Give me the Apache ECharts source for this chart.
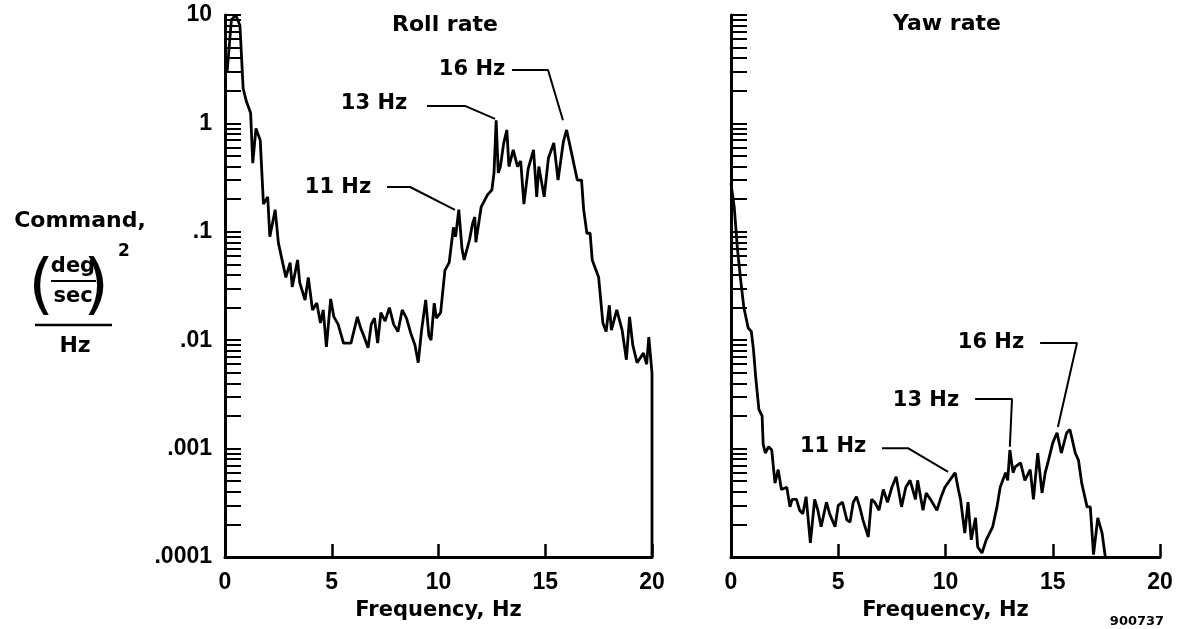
<!DOCTYPE html>
<html>
<head>
<meta charset="utf-8">
<title>Roll rate / Yaw rate</title>
<script src="https://cdn.jsdelivr.net/npm/echarts@6.0.0/dist/echarts.min.js"></script>
<style>
  html, body { margin: 0; padding: 0; background: #fff; }
  #chart { width: 1179px; height: 629px; }
</style>
</head>
<body>
<div id="chart"></div>
<script>
// values (frequency in Hz, command PSD)
const rollFreq = [0.1, 0.3, 0.5, 0.7, 0.85, 1.0, 1.2, 1.3, 1.45, 1.65, 1.8, 2.0, 2.1, 2.35, 2.5, 2.7, 2.85, 3.05, 3.15, 3.4,
  3.5, 3.75, 3.9, 4.1, 4.3, 4.47, 4.6, 4.75, 4.95, 5.1, 5.3, 5.55, 5.9, 6.2, 6.35, 6.5, 6.7, 6.85, 7.0, 7.15,
  7.3, 7.5, 7.7, 7.9, 8.1, 8.3, 8.5, 8.7, 8.9, 9.05, 9.2, 9.4, 9.55, 9.65, 9.8, 9.9, 10.1, 10.3, 10.5, 10.7,
  10.8, 10.95, 11.1, 11.2, 11.45, 11.6, 11.7, 11.75, 12.0, 12.3, 12.5, 12.6, 12.7, 12.8, 12.9, 13.05, 13.2, 13.3, 13.5, 13.7,
  13.85, 14.0, 14.2, 14.45, 14.6, 14.7, 14.95, 15.15, 15.4, 15.6, 15.85, 16.0, 16.2, 16.5, 16.7, 16.8, 16.95, 17.1, 17.2, 17.5,
  17.7, 17.85, 18.0, 18.1, 18.35, 18.6, 18.8, 18.95, 19.1, 19.3, 19.6, 19.75, 19.85, 20.0, 20.0];
const rollPsd = [3, 9, 10, 8, 2.1, 1.6, 1.25, 0.43, 0.9, 0.7, 0.18, 0.21, 0.09, 0.16, 0.079, 0.052, 0.038, 0.052, 0.031, 0.055,
  0.034, 0.0235, 0.038, 0.019, 0.022, 0.0144, 0.019, 0.0087, 0.024, 0.0164, 0.014, 0.0094, 0.0094, 0.0164, 0.013, 0.011, 0.0085, 0.014, 0.016, 0.0094,
  0.018, 0.015, 0.02, 0.014, 0.012, 0.019, 0.016, 0.0116, 0.009, 0.0062, 0.012, 0.0235, 0.011, 0.01, 0.022, 0.016, 0.018, 0.044, 0.052, 0.11,
  0.09, 0.16, 0.07, 0.055, 0.084, 0.12, 0.137, 0.08, 0.17, 0.22, 0.243, 0.35, 1.07, 0.35, 0.4, 0.65, 0.87, 0.4, 0.57, 0.4,
  0.45, 0.18, 0.38, 0.57, 0.21, 0.4, 0.21, 0.48, 0.66, 0.3, 0.68, 0.87, 0.57, 0.3, 0.3, 0.16, 0.097, 0.097, 0.055, 0.038,
  0.0144, 0.012, 0.021, 0.0124, 0.019, 0.0124, 0.0066, 0.0164, 0.009, 0.0062, 0.0076, 0.006, 0.0107, 0.005, 0.0001];

const yawFreq = [0.0, 0.15, 0.3, 0.45, 0.6, 0.8, 0.95, 1.05, 1.15, 1.3, 1.45, 1.5, 1.6, 1.75, 1.9, 2.05, 2.2, 2.35, 2.6, 2.75,
  2.85, 3.05, 3.2, 3.35, 3.5, 3.7, 3.9, 4.05, 4.2, 4.45, 4.6, 4.85, 5.0, 5.2, 5.4, 5.55, 5.7, 5.85, 6.0, 6.15,
  6.4, 6.55, 6.7, 6.9, 7.1, 7.3, 7.5, 7.7, 7.95, 8.15, 8.35, 8.6, 8.7, 8.95, 9.1, 9.3, 9.6, 9.8, 9.97, 10.2,
  10.45, 10.6, 10.7, 10.9, 11.05, 11.2, 11.4, 11.5, 11.7, 11.9, 12.2, 12.4, 12.55, 12.8, 12.9, 13.0, 13.15, 13.25, 13.5, 13.7,
  13.95, 14.1, 14.3, 14.5, 14.65, 14.8, 15.0, 15.2, 15.4, 15.65, 15.8, 16.05, 16.2, 16.35, 16.6, 16.75, 16.9, 17.1, 17.3, 17.45];
const yawPsd = [0.28, 0.17, 0.07, 0.036, 0.02, 0.013, 0.012, 0.0081, 0.0046, 0.0023, 0.002, 0.0011, 0.00091, 0.00104, 0.00097, 0.00048, 0.00064, 0.00042, 0.00044, 0.00029,
  0.00034, 0.00034, 0.00027, 0.00025, 0.00036, 0.000135, 0.00034, 0.00027, 0.00019, 0.00032, 0.00025, 0.00019, 0.0003, 0.00032, 0.00022, 0.00021, 0.00032, 0.00036, 0.00029, 0.00022,
  0.000153, 0.00034, 0.00032, 0.00027, 0.00042, 0.00032, 0.00044, 0.00055, 0.00029, 0.00044, 0.00051, 0.00034, 0.00051, 0.00027, 0.00039, 0.00034, 0.00027, 0.00036, 0.00044, 0.00051,
  0.0006, 0.00042, 0.00034, 0.000166, 0.00032, 0.000144, 0.00023, 0.000124, 0.000109, 0.000144, 0.00019, 0.00029, 0.00044, 0.0006, 0.00051, 0.00097, 0.0006, 0.00068, 0.00074, 0.00051,
  0.00064, 0.00034, 0.00091, 0.00039, 0.0006, 0.00078, 0.00113, 0.0014, 0.00091, 0.0014, 0.0015, 0.00091, 0.00078, 0.00048, 0.00029, 0.00029, 0.000105, 0.00023, 0.000166, 0.0001];

// log axis decades and their labels
const decades = [0.0001, 0.001, 0.01, 0.1, 1, 10];
const decadeLabels = ['.0001', '.001', '.01', '.1', '1', '10'];

// "xx Hz" call-outs: label position and leader path, in data units
const rollNotes = [
  { text: '16 Hz', at: [11.57, 3.11], path: [[13.44, 3.11], [15.13, 3.11], [15.83, 1.07]] },
  { text: '13 Hz', at: [6.98, 1.54], path: [[9.46, 1.45], [11.24, 1.45], [12.65, 1.1]] },
  { text: '11 Hz', at: [5.29, 0.254], path: [[7.59, 0.259], [8.67, 0.259], [10.77, 0.159]] }
];
const yawNotes = [
  { text: '16 Hz', at: [12.12, 0.00942], path: [[14.41, 0.00942], [16.13, 0.00942], [15.24, 0.00158]] },
  { text: '13 Hz', at: [9.09, 0.0028], path: [[11.38, 0.00287], [13.1, 0.00287], [13.0, 0.00104]] },
  { text: '11 Hz', at: [4.76, 0.00104], path: [[7.04, 0.00101], [8.25, 0.00101], [10.12, 0.00061]] }
];

// every 1..9 x decade gets a tick
const yTickValues = [];
decades.forEach((d, i) => {
  if (i === decades.length - 1) {
    yTickValues.push(d);
    return;
  }
  for (let m = 1; m <= 9; m++) yTickValues.push(m * d);
});

const zip = (xs, ys) => xs.map((x, i) => [x, ys[i]]);

const BOLD = "'DejaVu Sans'";
const NUM = "'Liberation Sans'";

const makeX = (gridIndex) => ({
  type: 'value',
  gridIndex,
  min: 0,
  max: 20,
  interval: 5,
  splitLine: { show: false },
  axisLine: { onZero: false, lineStyle: { color: '#000', width: 3 } },
  axisTick: { inside: true, length: 13, lineStyle: { color: '#000', width: 2.5 } },
  axisLabel: {
    color: '#000', fontFamily: NUM, fontWeight: 'bold', fontSize: 23, margin: 14,
    showMinLabel: true, showMaxLabel: true
  },
  name: 'Frequency, Hz',
  nameLocation: 'middle',
  nameGap: 43,
  nameTextStyle: { color: '#000', fontFamily: BOLD, fontWeight: 'bold', fontSize: 21 }
});

const makeY = (gridIndex, showLabels) => ({
  type: 'log',
  logBase: 10,
  gridIndex,
  min: 0.0001,
  max: 10,
  splitLine: { show: false },
  minorTick: { show: false },
  axisLine: { lineStyle: { color: '#000', width: 3 } },
  axisTick: {
    inside: true,
    length: 16,
    customValues: yTickValues,
    lineStyle: { color: '#000', width: 2 }
  },
  axisLabel: {
    show: showLabels,
    customValues: decades,
    color: '#000',
    fontFamily: NUM,
    fontWeight: 'bold',
    fontSize: 23,
    margin: 13,
    formatter: (v) => decadeLabels[Math.round(Math.log10(v)) + 4]
  }
});

// leader lines of the call-outs
const leaderSeries = (notes, idx) =>
  notes.map((n) => ({
    type: 'line',
    xAxisIndex: idx,
    yAxisIndex: idx,
    data: n.path,
    symbol: 'none',
    silent: true,
    lineStyle: { color: '#000', width: 2 }
  }));

const chart = echarts.init(document.getElementById('chart'));
const option = {
  animation: false,
  backgroundColor: '#fff',
  grid: [
    { left: 225, top: 15, width: 427, height: 542 },
    { left: 731, top: 15, width: 429, height: 542 }
  ],
  xAxis: [makeX(0), makeX(1)],
  yAxis: [makeY(0, true), makeY(1, false)],
  series: [
    {
      name: 'Roll rate',
      type: 'line',
      xAxisIndex: 0,
      yAxisIndex: 0,
      data: zip(rollFreq, rollPsd),
      showSymbol: false,
      lineStyle: { color: '#000', width: 2.8 }
    },
    {
      name: 'Yaw rate',
      type: 'line',
      xAxisIndex: 1,
      yAxisIndex: 1,
      data: zip(yawFreq, yawPsd),
      showSymbol: false,
      lineStyle: { color: '#000', width: 2.8 }
    },
    ...leaderSeries(rollNotes, 0),
    ...leaderSeries(yawNotes, 1)
  ],
  graphic: [
    // panel titles
    { type: 'text', x: 445, y: 25, style: { text: 'Roll rate', font: "bold 22px 'DejaVu Sans'", fill: '#000', textAlign: 'center', textVerticalAlign: 'middle' } },
    { type: 'text', x: 947, y: 24, style: { text: 'Yaw rate', font: "bold 22px 'DejaVu Sans'", fill: '#000', textAlign: 'center', textVerticalAlign: 'middle' } },
    // y axis unit:  Command, (deg/sec)^2 / Hz
    { type: 'text', x: 80, y: 221, style: { text: 'Command,', font: "bold 22px 'DejaVu Sans'", fill: '#000', textAlign: 'center', textVerticalAlign: 'middle' } },
    { type: 'text', x: 41, y: 289, style: { text: '(', font: "66px 'DejaVu Sans'", fill: '#000', textAlign: 'center', textVerticalAlign: 'middle' } },
    { type: 'text', x: 96, y: 289, style: { text: ')', font: "66px 'DejaVu Sans'", fill: '#000', textAlign: 'center', textVerticalAlign: 'middle' } },
    { type: 'text', x: 73, y: 267, style: { text: 'deg', font: "bold 21px 'DejaVu Sans'", fill: '#000', textAlign: 'center', textVerticalAlign: 'middle' } },
    { type: 'line', shape: { x1: 51, y1: 281, x2: 96, y2: 281 }, style: { stroke: '#000', lineWidth: 2 } },
    { type: 'text', x: 73, y: 297, style: { text: 'sec', font: "bold 21px 'DejaVu Sans'", fill: '#000', textAlign: 'center', textVerticalAlign: 'middle' } },
    { type: 'text', x: 124, y: 252, style: { text: '2', font: "bold 17px 'DejaVu Sans'", fill: '#000', textAlign: 'center', textVerticalAlign: 'middle' } },
    { type: 'line', shape: { x1: 35, y1: 325, x2: 112, y2: 325 }, style: { stroke: '#000', lineWidth: 2.5 } },
    { type: 'text', x: 75, y: 346, style: { text: 'Hz', font: "bold 22px 'DejaVu Sans'", fill: '#000', textAlign: 'center', textVerticalAlign: 'middle' } },
    // figure number
    { type: 'text', x: 1137, y: 622, style: { text: '900737', font: "bold 13px 'DejaVu Sans'", fill: '#000', textAlign: 'center', textVerticalAlign: 'middle' } }
  ]
};
chart.setOption(option);

// call-out texts, placed through each grid's scales
const noteTexts = [];
[rollNotes, yawNotes].forEach((notes, idx) => {
  notes.forEach((n) => {
    const p = chart.convertToPixel({ gridIndex: idx }, n.at);
    noteTexts.push({
      type: 'text',
      x: p[0],
      y: p[1],
      style: { text: n.text, font: "bold 21px 'DejaVu Sans'", fill: '#000', textAlign: 'center', textVerticalAlign: 'middle' }
    });
  });
});
chart.setOption({ graphic: option.graphic.concat(noteTexts) });
</script>
</body>
</html>
